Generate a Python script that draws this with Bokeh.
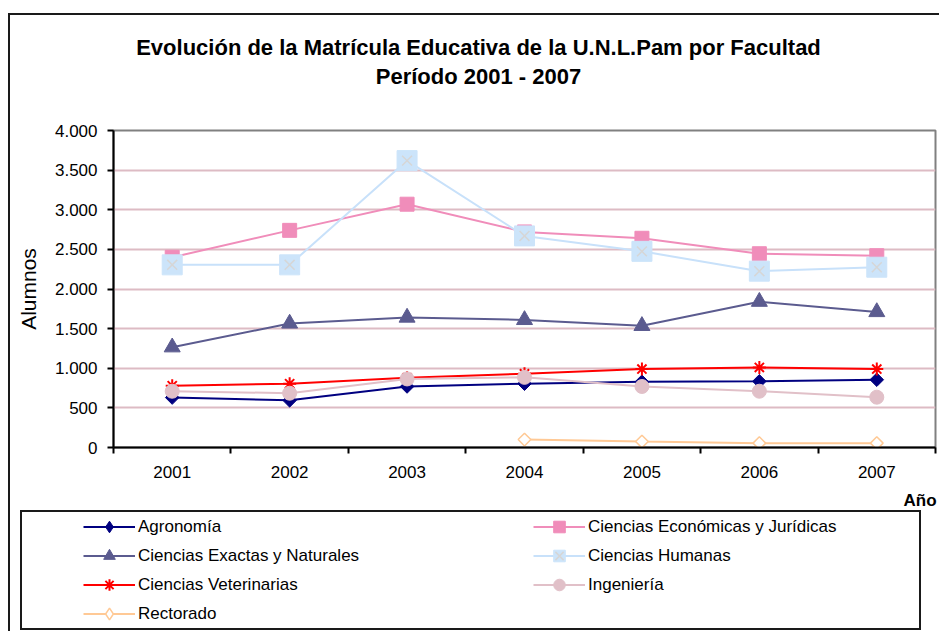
import math
import numpy as np
from bokeh.plotting import figure
from bokeh.layouts import column
from bokeh.models import Range1d, FixedTicker, Legend, LegendItem, Label
from bokeh.embed import file_html
from bokeh.resources import INLINE

# ---------------- data ----------------
years = [2001, 2002, 2003, 2004, 2005, 2006, 2007]
agronomia = [630, 595, 770, 805, 830, 835, 855]
economicas = [2400, 2740, 3070, 2720, 2640, 2445, 2420]
exactas = [1265, 1565, 1640, 1610, 1535, 1840, 1710]
humanas = [2305, 2305, 3620, 2670, 2475, 2225, 2275]
veterinarias = [780, 805, 880, 930, 990, 1010, 990]
ingenieria = [710, 685, 865, 885, 770, 710, 635]
rectorado = [None, None, None, 100, 75, 55, 55]

y_ticks = [0, 500, 1000, 1500, 2000, 2500, 3000, 3500, 4000]
y_tick_labels = ["0", "500", "1.000", "1.500", "2.000", "2.500", "3.000", "3.500", "4.000"]

title1 = "Evolución de la Matrícula Educativa de la U.N.L.Pam por Facultad"
title2 = "Período 2001 - 2007"
y_label = "Alumnos"
x_label = "Año"

FONT = "Liberation Sans"
W = 939
H_HEAD, H_CHART, H_LEG = 100, 387, 144          # stacked heights (total 631)
FX0, FX1, FY0, FY1 = 113, 935, 130, 447         # plot frame in page pixels


def arr(v):
    return np.array([np.nan if a is None else a for a in v], dtype=float)


def no_align(f):
    if "frame_align" in f.properties():
        f.frame_align = False


def blank(height, y0, css):
    f = figure(width=W, height=height, output_backend="svg", toolbar_location=None, title=None,
               x_range=Range1d(0, W), y_range=Range1d(y0 + height, y0),
               x_axis_location=None, y_axis_location=None, min_border=0,
               stylesheets=[css])
    f.outline_line_color = None
    f.background_fill_color = "white"
    f.border_fill_color = "white"
    f.grid.visible = False
    no_align(f)
    return f


# ---------------- header with the two title lines ----------------
head = blank(H_HEAD, 0, """
:host { position: relative; }
:host::before { content: ""; position: absolute; left: 8px; top: 13px; width: 931px; height: 87px;
  border-left: 2px solid #1a1a1a; border-top: 2px solid #1a1a1a; box-sizing: border-box;
  pointer-events: none; z-index: 10; }
""")
for txt, yy in [(title1, 47), (title2, 76)]:
    head.add_layout(Label(x=478, y=yy, text=txt, text_align="center", text_baseline="middle",
                          text_font=FONT, text_font_style="bold", text_font_size="22px",
                          text_color="black"))

# ---------------- chart ----------------
p = figure(width=W, height=H_CHART, output_backend="svg", toolbar_location=None, title=None,
           x_range=Range1d(2000.5, 2007.5), y_range=Range1d(0, 4000),
           min_border_left=FX0, min_border_right=W - FX1,
           min_border_top=FY0 - H_HEAD, min_border_bottom=H_HEAD + H_CHART - FY1,
           stylesheets=["""
:host { position: relative; }
:host::before { content: ""; position: absolute; left: 8px; top: 0px; width: 2px; height: 387px;
  background: #1a1a1a; pointer-events: none; z-index: 10; }
"""])
no_align(p)
p.background_fill_color = "white"
p.border_fill_color = "white"
p.outline_line_color = "#808080"
p.outline_line_width = 2

p.xgrid.visible = False
p.ygrid.grid_line_color = "#DDBBC4"
p.ygrid.grid_line_width = 2

p.yaxis.ticker = FixedTicker(ticks=y_ticks, minor_ticks=[])
p.yaxis.major_label_overrides = {t: s for t, s in zip(y_ticks, y_tick_labels)}
p.yaxis.axis_line_color = "black"
p.yaxis.axis_line_width = 2
p.yaxis.major_tick_out = 6
p.yaxis.major_tick_in = 0
p.yaxis.major_tick_line_width = 2
p.yaxis.major_tick_line_color = "black"
p.yaxis.major_label_standoff = 10
p.yaxis.major_label_text_font = FONT
p.yaxis.major_label_text_font_size = "17px"
p.yaxis.major_label_text_color = "black"
p.yaxis.axis_label = y_label
p.yaxis.axis_label_standoff = 12
p.yaxis.axis_label_text_font = FONT
p.yaxis.axis_label_text_font_style = "normal"
p.yaxis.axis_label_text_font_size = "21px"
p.yaxis.axis_label_text_color = "black"

bounds = [2000.5 + i for i in range(8)]
p.xaxis.ticker = FixedTicker(ticks=years, minor_ticks=bounds)
p.xaxis.major_label_overrides = {y: str(y) for y in years}
p.xaxis.axis_line_color = "black"
p.xaxis.axis_line_width = 2
p.xaxis.major_tick_out = 0
p.xaxis.major_tick_in = 0
p.xaxis.minor_tick_out = 6
p.xaxis.minor_tick_in = 0
p.xaxis.minor_tick_line_width = 2
p.xaxis.minor_tick_line_color = "black"
p.xaxis.major_label_standoff = 12
p.xaxis.major_label_text_font = FONT
p.xaxis.major_label_text_font_size = "17px"
p.xaxis.major_label_text_color = "black"

# series styles: (label, values, color, marker, size, fill, line_width)
series = [
    ("Agronomía", agronomia, "#000080", "diamond", 15, "#000080", 1),
    ("Ciencias Económicas y Jurídicas", economicas, "#F08DBA", "square", 14, "#F08DBA", 1),
    ("Ciencias Exactas y Naturales", exactas, "#5B5B8F", "triangle", 16, "#5B5B8F", 1),
    ("Ciencias Humanas", humanas, "#C8E1FA", "square", 20, "#CCE4FA", 1),
    ("Ciencias Veterinarias", veterinarias, "#FF0000", "asterisk", 13, None, 2),
    ("Ingeniería", ingenieria, "#E1C0C8", "circle", 14, "#E1C0C8", 1),
    ("Rectorado", rectorado, "#FFC995", "diamond", 14, "white", 1.5),
]


def draw(fig, name, vals, color, marker, size, fill, lw, in_chart):
    rs = [fig.line(years, arr(vals), line_color=color, line_width=2)]
    mc = "#CCE4FA" if name == "Ciencias Humanas" else color
    if in_chart and marker == "diamond":
        # Excel-like diamond: a square turned by 45 degrees
        rs.append(fig.scatter(years, arr(vals), marker="square", angle=math.pi / 4, size=size * 0.64,
                              fill_color=fill, line_color=mc, line_width=lw))
    else:
        rs.append(fig.scatter(years, arr(vals), marker=marker, size=size, fill_color=fill,
                              line_color=mc, line_width=lw))
    if name == "Ciencias Humanas":
        rs.append(fig.scatter(years, arr(vals), marker="x", size=14, line_color="#D6D6D6", line_width=1.5))
    return rs


for s in series:
    draw(p, *s, True)

# ---------------- legend strip ----------------
leg = blank(H_LEG, H_HEAD + H_CHART, """
:host { position: relative; }
:host::before { content: ""; position: absolute; left: 8px; top: 0px; width: 2px; height: 144px;
  background: #1a1a1a; pointer-events: none; z-index: 10; }
:host::after { content: ""; position: absolute; left: 20px; top: 23px; width: 901px; height: 120px;
  border: 2px solid #1a1a1a; box-sizing: border-box; pointer-events: none; z-index: 10; }
""")
# legend glyphs use the same series (their points fall outside this strip's view)
items = [LegendItem(label=s[0], renderers=draw(leg, *s, False)) for s in series]
legend = Legend(items=items, location=(83, 3), orientation="horizontal", ncols=2,
                padding=0, margin=0, spacing=0, glyph_width=52, glyph_height=29,
                label_height=29, label_width=395, label_standoff=3,
                border_line_alpha=0, background_fill_alpha=0,
                label_text_font=FONT, label_text_font_size="17px", label_text_color="black")
leg.add_layout(legend)
leg.add_layout(Label(x=903, y=500, text=x_label, text_align="left", text_baseline="middle",
                     text_font=FONT, text_font_style="bold", text_font_size="17px", text_color="black"))

layout = column(head, p, leg, spacing=0)
open("out.html", "w").write(file_html(layout, INLINE))
